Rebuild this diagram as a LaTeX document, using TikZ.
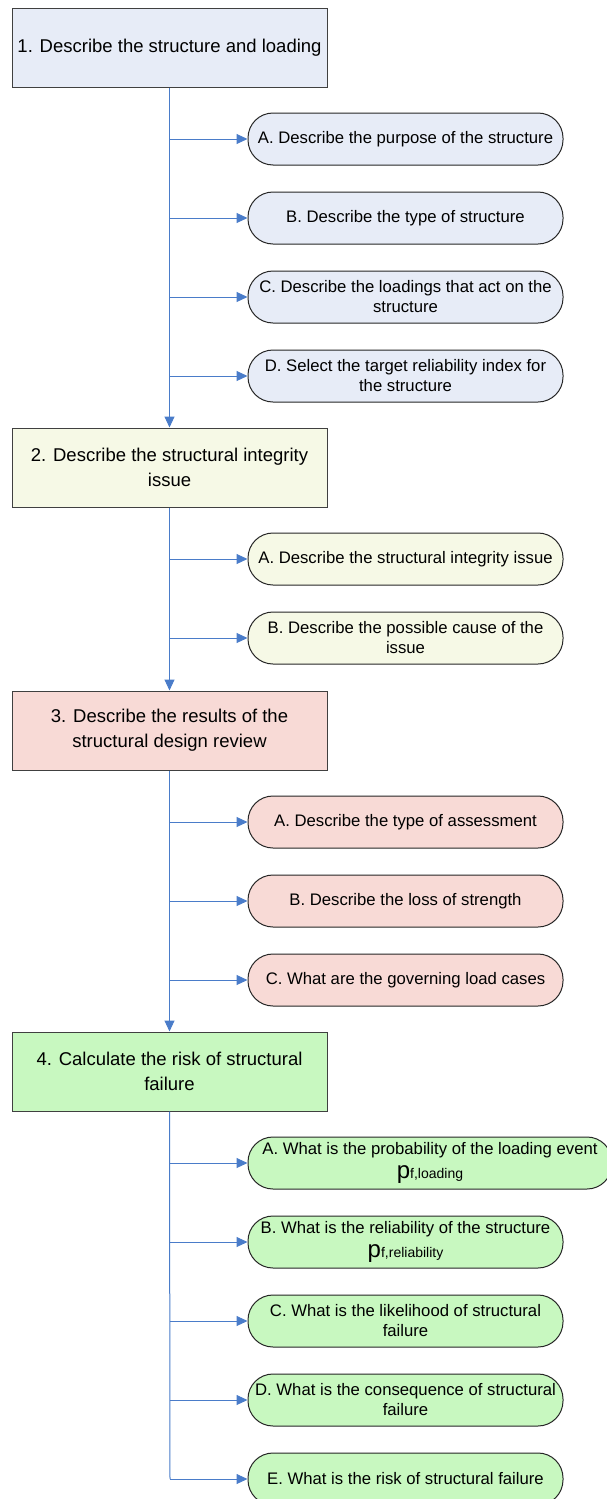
\documentclass[tikz,border=0pt]{standalone}
\usepackage{fontspec}
\setmainfont{Liberation Sans}
\usetikzlibrary{arrows.meta}
\definecolor{lineblue}{HTML}{4A7CC9}
\definecolor{fillA}{HTML}{E7ECF7}
\definecolor{fillB}{HTML}{F6F9E6}
\definecolor{fillC}{HTML}{F8DAD6}
\definecolor{fillD}{HTML}{C8F8C0}
\tikzset{
  mainbox/.style={draw=black!75, line width=1pt, minimum width=315pt, minimum height=79pt, align=center, font=\fontsize{18.5}{25}\selectfont, inner sep=2pt},
  subbox/.style={draw=black!85, line width=1pt, rounded corners=25pt, minimum width=315pt, minimum height=52pt, align=center, font=\fontsize{16.7}{20}\selectfont, inner sep=1pt},
  link/.style={draw=lineblue, line width=1pt},
  arr/.style={link, -{Triangle[length=11pt,width=10pt]}}
}
\newcommand{\pf}[1]{{\fontsize{24}{24}\selectfont p}{\fontsize{14}{14}\selectfont #1}}
\begin{document}
\begin{tikzpicture}[x=1pt,y=-1pt]
\useasboundingbox (0,0) rectangle (607,1499);
% main boxes
\node[mainbox, fill=fillA] (m1) at (169.5,47.5) {1. Describe the structure and loading};
\node[mainbox, fill=fillB] (m2) at (169.5,467.5) {2. Describe the structural integrity\\issue};
\node[mainbox, fill=fillC] (m3) at (169.5,730.5) {3. Describe the results of the\\structural design review};
\node[mainbox, fill=fillD] (m4) at (169.5,1071.5) {4. Calculate the risk of structural\\failure};
% sub boxes 1
\node[subbox, fill=fillA] (a1) at (405.5,139) {A. Describe the purpose of the structure};
\node[subbox, fill=fillA] (b1) at (405.5,218) {B. Describe the type of structure};
\node[subbox, fill=fillA] (c1) at (405.5,297) {C. Describe the loadings that act on the\\structure};
\node[subbox, fill=fillA] (d1) at (405.5,376) {D. Select the target reliability index for\\the structure};
% sub boxes 2
\node[subbox, fill=fillB] (a2) at (405.5,559) {A. Describe the structural integrity issue};
\node[subbox, fill=fillB] (b2) at (405.5,638) {B. Describe the possible cause of the\\issue};
% sub boxes 3
\node[subbox, fill=fillC] (a3) at (405.5,822) {A. Describe the type of assessment};
\node[subbox, fill=fillC] (b3) at (405.5,901) {B. Describe the loss of strength};
\node[subbox, fill=fillC] (c3) at (405.5,980) {C. What are the governing load cases};
% sub boxes 4
\node[subbox, fill=fillD, minimum width=364pt] (a4) at (430,1163) {A. What is the probability of the loading event\\[4pt]\pf{f,loading}};
\node[subbox, fill=fillD] (b4) at (405.5,1242) {B. What is the reliability of the structure\\[4pt]\pf{f,reliability}};
\node[subbox, fill=fillD] (c4) at (405.5,1321) {C. What is the likelihood of structural\\failure};
\node[subbox, fill=fillD] (d4) at (405.5,1400) {D. What is the consequence of structural\\failure};
\node[subbox, fill=fillD] (e4) at (405.5,1479) {E. What is the risk of structural failure};
% connectors
\coordinate (end4) at (170,1479);
\draw[arr] (m1.south) -- (m2.north);
\draw[arr] (m2.south) -- (m3.north);
\draw[arr] (m3.south) -- (m4.north);
\draw[link] (m4.south) -- (end4);
\foreach \s in {a1,b1,c1,d1,a2,b2,a3,b3,c3,a4,b4,c4,d4,e4}{
  \draw[arr] (170,0 |- \s.west) -- (\s.west);
}
\end{tikzpicture}
\end{document}
